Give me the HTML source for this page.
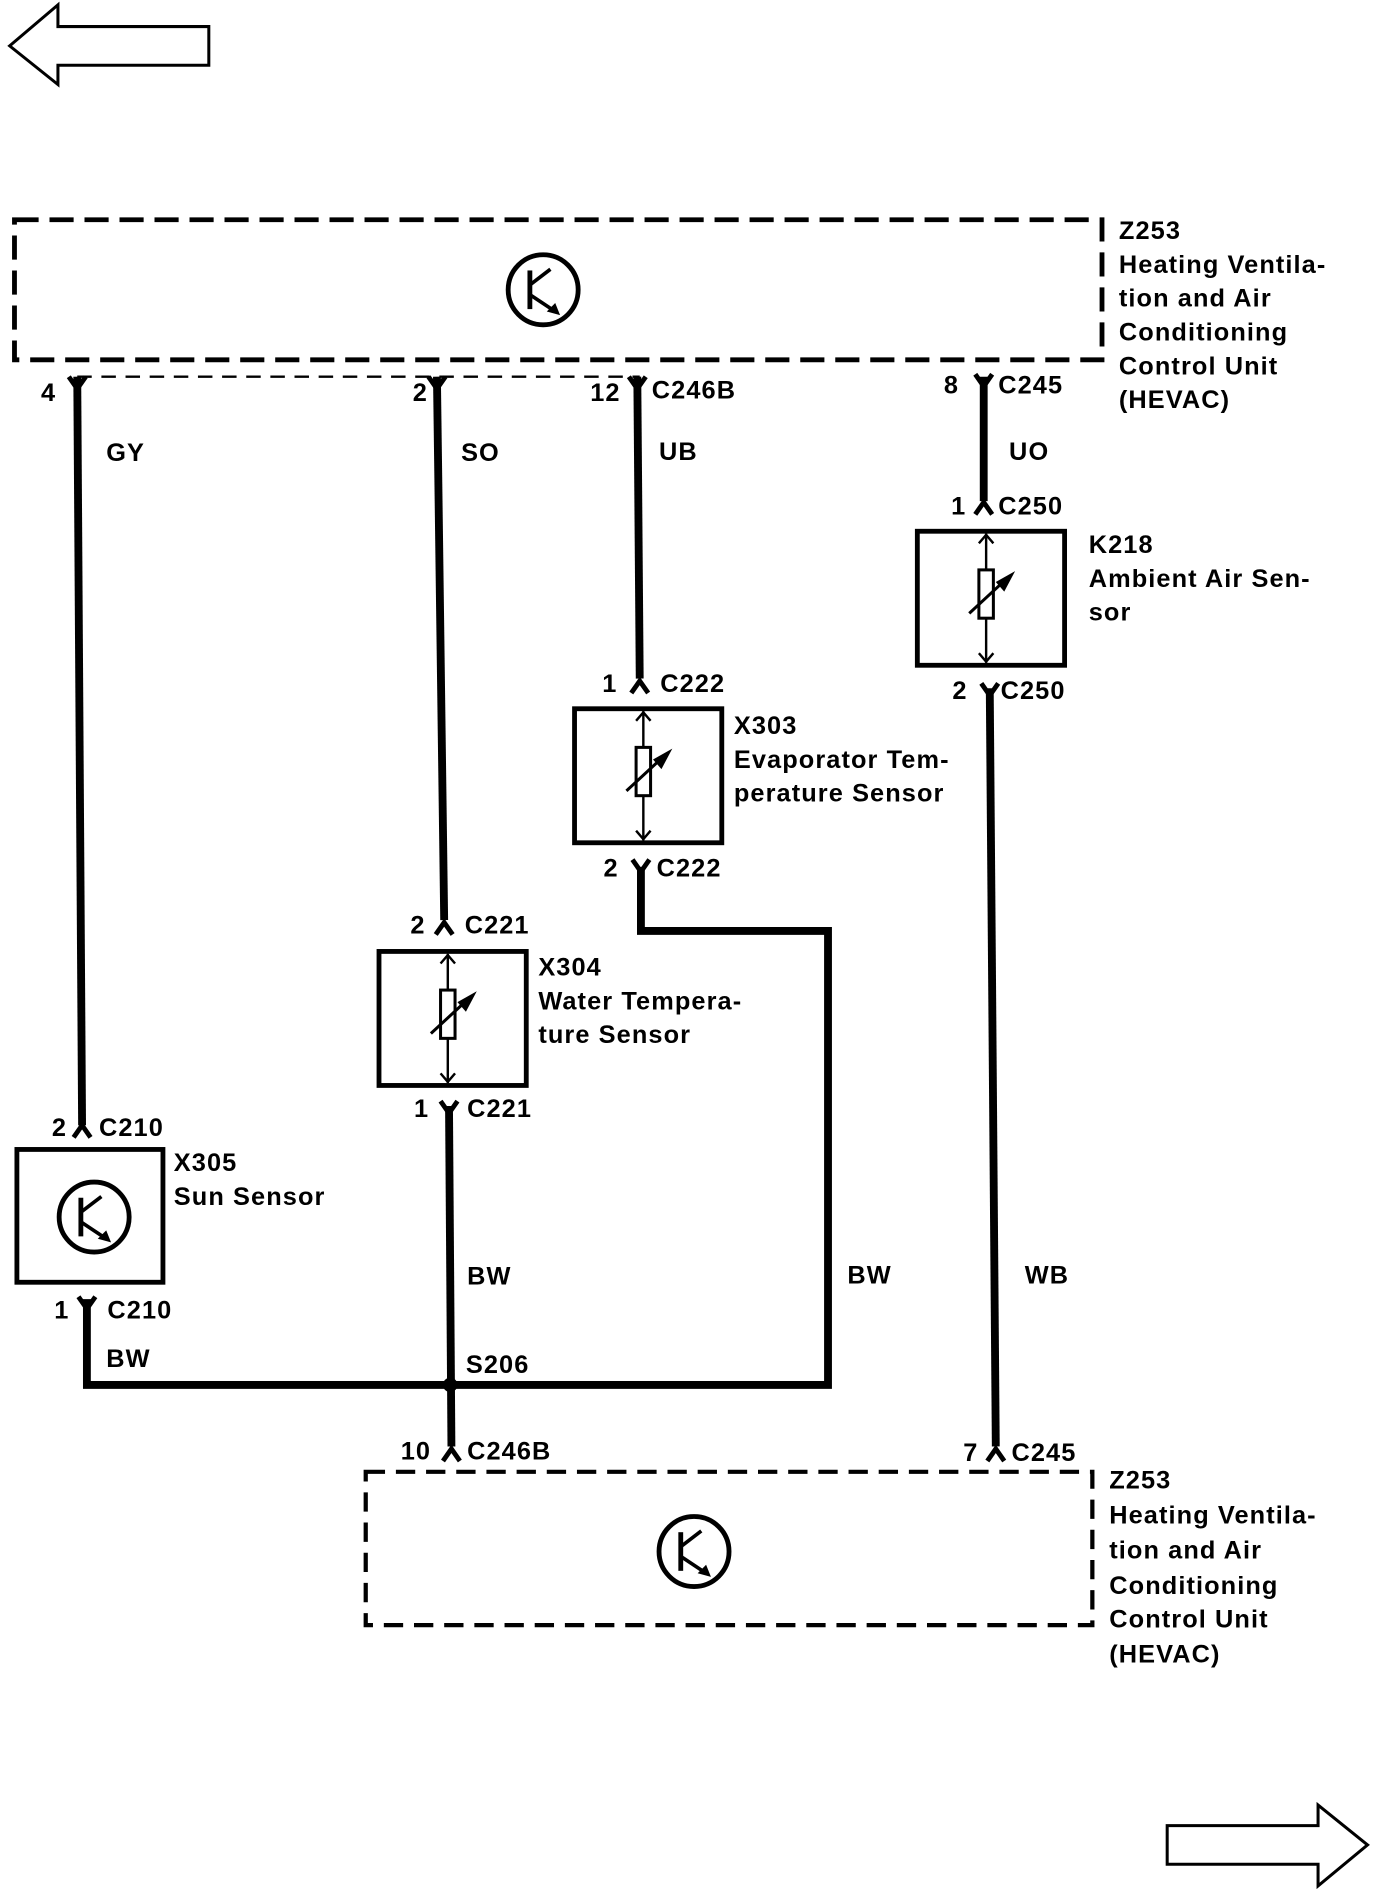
<!DOCTYPE html>
<html><head><style>html,body{margin:0;padding:0;background:#fff}svg{display:block}text{font-family:"Liberation Sans",sans-serif;font-weight:bold;font-size:21px;letter-spacing:0.9px;fill:#000}</style></head>
<body>
<svg width="1376" height="1892" viewBox="0 0 1140 1567" preserveAspectRatio="none" xmlns="http://www.w3.org/2000/svg">
<defs>
<g id="sens">
<rect x="0" y="0" width="122" height="111" fill="none" stroke="#000" stroke-width="4"/>
<line x1="57" y1="2" x2="57" y2="109" stroke="#000" stroke-width="2"/>
<rect x="51" y="32" width="12" height="40" fill="#fff" stroke="#000" stroke-width="2.5"/>
<polyline points="51,10 57,3 63,10" fill="none" stroke="#000" stroke-width="2"/>
<polyline points="51,101 57,108 63,101" fill="none" stroke="#000" stroke-width="2"/>
<line x1="43" y1="68" x2="70" y2="43" stroke="#000" stroke-width="2.5"/>
<polygon points="65,42 81,33 72,50" fill="#000"/>
</g>
<g id="trans">
<circle cx="0" cy="0" r="29" fill="none" stroke="#000" stroke-width="4"/>
<line x1="-11" y1="-16" x2="-11" y2="16" stroke="#000" stroke-width="4"/>
<line x1="-11" y1="-4" x2="6" y2="-17" stroke="#000" stroke-width="3"/>
<line x1="-11" y1="4" x2="10" y2="18" stroke="#000" stroke-width="3"/>
<polygon points="3,18 14,21 10,11" fill="#000"/>
</g>
<path id="fy" d="M-7,-8 L0,2 L7,-8" fill="none" stroke="#000" stroke-width="4"/>
<path id="fl" d="M-7,8 L0,-2 L7,8" fill="none" stroke="#000" stroke-width="4"/>
</defs>
<polygon points="8,38 48,4 48,22 173,22 173,54 48,54 48,70" fill="none" stroke="#000" stroke-width="2.5"/>
<polygon points="1133,1528 1092,1495 1092,1512 967,1512 967,1544 1092,1544 1092,1562" fill="none" stroke="#000" stroke-width="2.5"/>
<rect x="12" y="182" width="901" height="116" fill="none" stroke="#000" stroke-width="4" stroke-dasharray="20,9"/>
<line x1="64" y1="312" x2="530" y2="312" stroke="#000" stroke-width="2" stroke-dasharray="12,8"/>
<use href="#trans" x="450" y="240"/>
<rect x="303" y="1219" width="602" height="127" fill="none" stroke="#000" stroke-width="3.5" stroke-dasharray="16,9"/>
<use href="#trans" x="575" y="1285"/>
<g stroke="#000" stroke-width="6.5" fill="none">
<line x1="64" y1="312" x2="68" y2="932"/>
<line x1="362" y1="312" x2="368" y2="762"/>
<line x1="528" y1="312" x2="530" y2="562"/>
<line x1="815" y1="312" x2="815" y2="415"/>
<polyline points="531,718 531,771 686,771 686,1147 373,1147"/>
<line x1="372" y1="916" x2="374" y2="1198"/>
<polyline points="72,1076 72,1147 373,1147"/>
<line x1="820" y1="570" x2="825" y2="1198"/>
</g>
<circle cx="373" cy="1147" r="6" fill="#000"/>
<use href="#fy" x="64" y="320"/><use href="#fy" x="362" y="320"/><use href="#fy" x="528" y="320"/><use href="#fy" x="815" y="318"/>
<use href="#fl" x="815" y="418"/><use href="#fl" x="530" y="566"/><use href="#fl" x="368" y="766"/><use href="#fl" x="68" y="934"/>
<use href="#fy" x="820" y="574"/><use href="#fy" x="531" y="720"/><use href="#fy" x="372" y="920"/><use href="#fy" x="72" y="1082"/>
<use href="#fl" x="374" y="1202"/><use href="#fl" x="825" y="1202"/>
<use href="#sens" x="760" y="440"/>
<use href="#sens" x="476" y="587"/>
<use href="#sens" x="314" y="788"/>
<rect x="14" y="952" width="121" height="110" fill="none" stroke="#000" stroke-width="4"/>
<use href="#trans" x="78" y="1008"/>
<text x="927" y="198">Z253</text><text x="927" y="226">Heating Ventila-</text><text x="927" y="254">tion and Air</text><text x="927" y="282">Conditioning</text><text x="927" y="310">Control Unit</text><text x="927" y="338">(HEVAC)</text>
<text x="919" y="1233">Z253</text><text x="919" y="1262">Heating Ventila-</text><text x="919" y="1291">tion and Air</text><text x="919" y="1320">Conditioning</text><text x="919" y="1348">Control Unit</text><text x="919" y="1377">(HEVAC)</text>
<text x="34" y="332">4</text><text x="342" y="332">2</text><text x="489" y="332">12</text><text x="540" y="330">C246B</text>
<text x="782" y="326">8</text><text x="827" y="326">C245</text>
<text x="88" y="382">GY</text><text x="382" y="382">SO</text><text x="546" y="381">UB</text><text x="836" y="381">UO</text>
<text x="788" y="426">1</text><text x="827" y="426">C250</text>
<text x="902" y="458">K218</text><text x="902" y="486">Ambient Air Sen-</text><text x="902" y="514">sor</text>
<text x="789" y="579">2</text><text x="829" y="579">C250</text>
<text x="499" y="573">1</text><text x="547" y="573">C222</text>
<text x="608" y="608">X303</text><text x="608" y="636">Evaporator Tem-</text><text x="608" y="664">perature Sensor</text>
<text x="500" y="726">2</text><text x="544" y="726">C222</text>
<text x="340" y="773">2</text><text x="385" y="773">C221</text>
<text x="446" y="808">X304</text><text x="446" y="836">Water Tempera-</text><text x="446" y="864">ture Sensor</text>
<text x="343" y="925">1</text><text x="387" y="925">C221</text>
<text x="43" y="941">2</text><text x="82" y="941">C210</text>
<text x="144" y="970">X305</text><text x="144" y="998">Sun Sensor</text>
<text x="45" y="1092">1</text><text x="89" y="1092">C210</text>
<text x="88" y="1132">BW</text><text x="387" y="1064">BW</text><text x="702" y="1063">BW</text><text x="849" y="1063">WB</text>
<text x="386" y="1137">S206</text>
<text x="332" y="1209">10</text><text x="387" y="1209">C246B</text>
<text x="798" y="1210">7</text><text x="838" y="1210">C245</text>
</svg>
</body></html>
